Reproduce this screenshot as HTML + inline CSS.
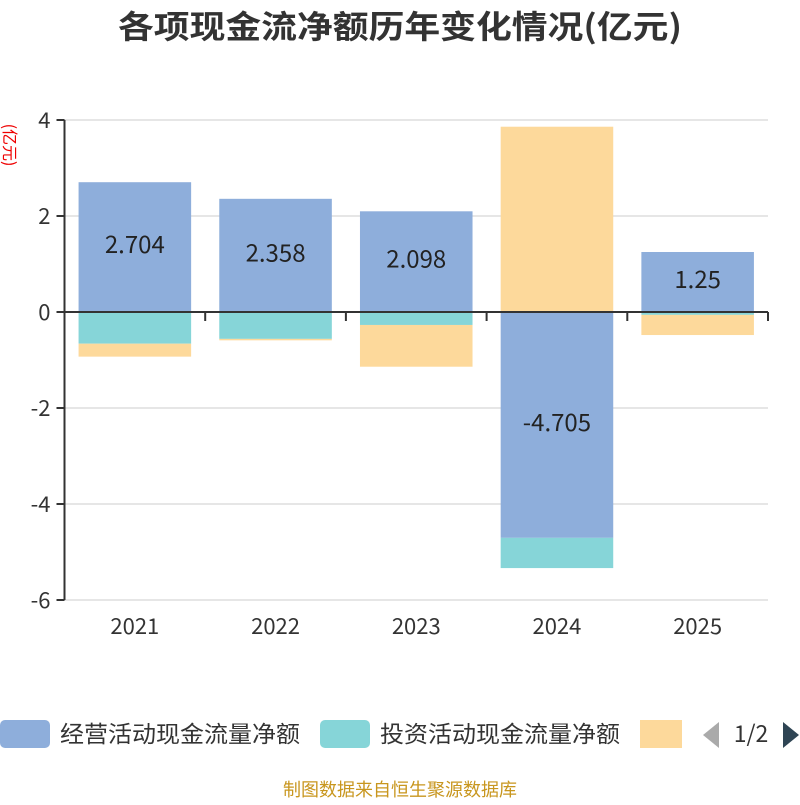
<!DOCTYPE html>
<html><head><meta charset="utf-8"><style>
body{margin:0;background:#fff;font-family:"Liberation Sans","Noto Sans CJK SC",sans-serif}
svg text{font-family:"Noto Sans CJK SC","Liberation Sans",sans-serif}
</style></head><body>
<svg id="c" width="800" height="800">
<text x="118" y="38" textLength="564" lengthAdjust="spacingAndGlyphs" font-size="32" font-weight="bold" fill="#333">各项现金流净额历年变化情况(亿元)</text>
<text transform="translate(4,145) rotate(90)" text-anchor="middle" font-size="16" fill="#e00">(亿元)</text>
<g id="grid"></g><g id="bars"></g><g id="axes"></g><g id="labels"></g>
<g>
<rect x="0" y="720" width="50" height="28" rx="5" fill="#8eaedb"/>
<text x="60" y="742" textLength="240" lengthAdjust="spacingAndGlyphs" font-size="23" fill="#333">经营活动现金流量净额</text>
<rect x="320" y="720" width="50" height="28" rx="5" fill="#86d5d8"/>
<text x="380" y="742" textLength="240" lengthAdjust="spacingAndGlyphs" font-size="23" fill="#333">投资活动现金流量净额</text>
<rect x="640" y="720" width="42" height="28" fill="#fdd99b"/>
<polygon points="719,722 719,748 703,735" fill="#aaa"/>
<text x="751" y="742" text-anchor="middle" font-size="23" fill="#333">1/2</text>
<polygon points="783,722 783,748 799,735" fill="#2f4554"/>
</g>
<text x="400" y="796" text-anchor="middle" font-size="18" fill="#c8961e">制图数据来自恒生聚源数据库</text>
</svg>
<script>
const categories=["2021","2022","2023","2024","2025"];
const operating=[2.704,2.358,2.098,-4.705,1.25];
const investing=[-0.66,-0.56,-0.27,-0.63,-0.06];
const financing=[-0.27,-0.03,-0.87,3.86,-0.42];
const yTicks=[-6,-4,-2,0,2,4];
const NS="http://www.w3.org/2000/svg";
const x0=64.5,x1=768,yTop=120,yBot=600,yMin=-6,yMax=4;
const bw=(x1-x0)/categories.length;
const y=v=>yBot-(v-yMin)/(yMax-yMin)*(yBot-yTop);
function mk(t,a,p){const e=document.createElementNS(NS,t);for(const k in a)e.setAttribute(k,a[k]);document.getElementById(p).appendChild(e);return e;}
yTicks.forEach(v=>{
 if(v!==0){const l=mk('line',{x1:x0,x2:x1,y1:y(v),y2:y(v),stroke:'#ccc','stroke-width':1},'grid');
 
 }
 const tk=mk('line',{x1:x0-8,x2:x0,y1:y(v),y2:y(v),stroke:'#333','stroke-width':2},'axes');
 
 
 const t=mk('text',{x:x0-14,y:y(v)+8,'text-anchor':'end','font-size':22,fill:'#333'},'axes');t.textContent=v;
 
 
});
const series=[[operating,'#8eaedb','operating'],[investing,'#86d5d8','investing'],[financing,'#fdd99b','financing']];
categories.forEach((c,i)=>{
 let pos=0,neg=0;const bx=x0+i*bw+bw*0.1,w=bw*0.8;
 series.forEach(([arr,col,nm])=>{
  const v=arr[i];let a,b;
  if(v>=0){a=pos;b=pos+v;pos=b;}else{a=neg;b=neg+v;neg=b;}
  const r=mk('rect',{x:bx,y:Math.min(y(a),y(b)),width:w,height:Math.abs(y(a)-y(b)),fill:col},'bars');
  
  
 });
 const v=operating[i];
 const t=mk('text',{x:bx+w/2,y:(y(0)+y(v))/2+6,'text-anchor':'middle','font-size':24,fill:'#222'},'labels');t.textContent=v;
 
 
 const xl=mk('text',{x:x0+(i+.5)*bw,y:634,'text-anchor':'middle','font-size':22,fill:'#333'},'axes');xl.textContent=c;
 
 
});
for(let i=0;i<=categories.length;i++){const tk=mk('line',{x1:x0+i*bw,x2:x0+i*bw,y1:y(0),y2:y(0)+9,stroke:'#333','stroke-width':2},'axes');
 
 }
const ya=mk('line',{x1:x0,x2:x0,y1:yTop,y2:yBot,stroke:'#333','stroke-width':2},'axes');


const xa=mk('line',{x1:x0-4,x2:x1,y1:y(0),y2:y(0),stroke:'#333','stroke-width':2},'axes');


</script>
</body></html>
